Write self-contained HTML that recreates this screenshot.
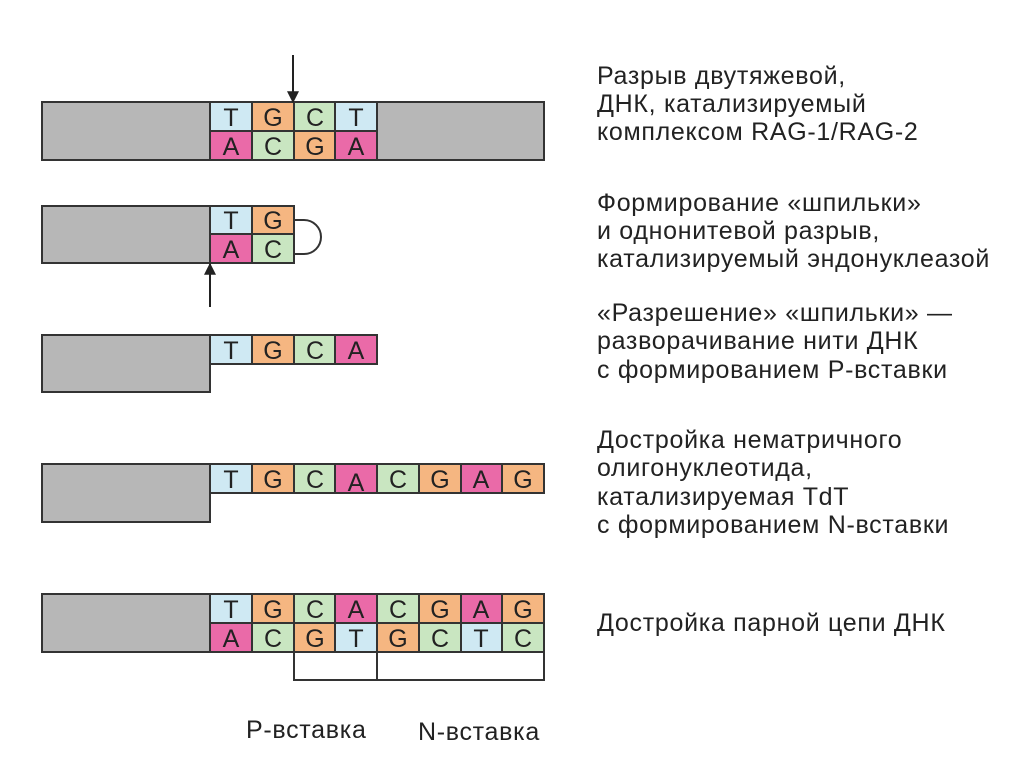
<!DOCTYPE html>
<html><head><meta charset="utf-8"><style>
html,body{margin:0;padding:0;background:#fff;}
svg{display:block}
.t{font-family:"Liberation Sans",sans-serif;font-size:25px;letter-spacing:0.7px;fill:#222}
.b{font-family:"Liberation Sans",sans-serif;font-size:25px;fill:#222;text-anchor:middle}
</style></head><body>
<svg width="1024" height="767" viewBox="0 0 1024 767" xmlns="http://www.w3.org/2000/svg">
<defs>
<marker id="ah" viewBox="0 0 10 10" refX="9" refY="5" markerWidth="6" markerHeight="7" orient="auto"><path d="M0,0 L10,5 L0,10 z" fill="#222"/></marker>
</defs>
<g stroke="#333" stroke-width="2">
<rect x="42" y="102" width="502" height="58" fill="#b7b7b7"/>
<rect x="210" y="102" width="42" height="29" fill="#cfe9f3"/><rect x="252" y="102" width="42" height="29" fill="#f5b681"/><rect x="294" y="102" width="41" height="29" fill="#c9e6c1"/><rect x="335" y="102" width="42" height="29" fill="#cfe9f3"/>
<rect x="210" y="131" width="42" height="29" fill="#ea6aa8"/><rect x="252" y="131" width="42" height="29" fill="#c9e6c1"/><rect x="294" y="131" width="41" height="29" fill="#f5b681"/><rect x="335" y="131" width="42" height="29" fill="#ea6aa8"/>
<rect x="42" y="206" width="252" height="57" fill="#b7b7b7"/>
<rect x="210" y="206" width="42" height="28" fill="#cfe9f3"/><rect x="252" y="206" width="42" height="28" fill="#f5b681"/>
<rect x="210" y="234" width="42" height="29" fill="#ea6aa8"/><rect x="252" y="234" width="42" height="29" fill="#c9e6c1"/>
<path d="M294,220 L304,220 A17,17 0 0 1 304,254 L294,254" fill="none"/>
<rect x="42" y="335" width="168" height="57" fill="#b7b7b7"/>
<rect x="210" y="335" width="42" height="29" fill="#cfe9f3"/><rect x="252" y="335" width="42" height="29" fill="#f5b681"/><rect x="294" y="335" width="41" height="29" fill="#c9e6c1"/><rect x="335" y="335" width="42" height="29" fill="#ea6aa8"/>
<rect x="42" y="464" width="168" height="58" fill="#b7b7b7"/>
<rect x="210" y="464" width="42" height="29" fill="#cfe9f3"/><rect x="252" y="464" width="42" height="29" fill="#f5b681"/><rect x="294" y="464" width="41" height="29" fill="#c9e6c1"/><rect x="335" y="464" width="42" height="29" fill="#ea6aa8"/>
<rect x="377" y="464" width="42" height="29" fill="#c9e6c1"/><rect x="419" y="464" width="42" height="29" fill="#f5b681"/><rect x="461" y="464" width="41" height="29" fill="#ea6aa8"/><rect x="502" y="464" width="42" height="29" fill="#f5b681"/>
<rect x="42" y="594" width="168" height="58" fill="#b7b7b7"/>
<rect x="210" y="594" width="42" height="29" fill="#cfe9f3"/><rect x="252" y="594" width="42" height="29" fill="#f5b681"/><rect x="294" y="594" width="41" height="29" fill="#c9e6c1"/><rect x="335" y="594" width="42" height="29" fill="#ea6aa8"/>
<rect x="377" y="594" width="42" height="29" fill="#c9e6c1"/><rect x="419" y="594" width="42" height="29" fill="#f5b681"/><rect x="461" y="594" width="41" height="29" fill="#ea6aa8"/><rect x="502" y="594" width="42" height="29" fill="#f5b681"/>
<rect x="210" y="623" width="42" height="29" fill="#ea6aa8"/><rect x="252" y="623" width="42" height="29" fill="#c9e6c1"/><rect x="294" y="623" width="41" height="29" fill="#f5b681"/><rect x="335" y="623" width="42" height="29" fill="#cfe9f3"/>
<rect x="377" y="623" width="42" height="29" fill="#f5b681"/><rect x="419" y="623" width="42" height="29" fill="#c9e6c1"/><rect x="461" y="623" width="41" height="29" fill="#cfe9f3"/><rect x="502" y="623" width="42" height="29" fill="#c9e6c1"/>
<path d="M294,652 L294,680 L544,680 L544,652 M377,652 L377,680" fill="none"/>
</g>
<line x1="293" y1="55" x2="293" y2="102" stroke="#222" stroke-width="2" marker-end="url(#ah)"/>
<line x1="210" y1="307" x2="210" y2="264" stroke="#222" stroke-width="2" marker-end="url(#ah)"/>
<g class="b">
<text x="231" y="126">T</text><text x="273" y="126">G</text><text x="315" y="126">C</text><text x="356" y="126">T</text>
<text x="231" y="155">A</text><text x="273" y="155">C</text><text x="315" y="155">G</text><text x="356" y="155">A</text>
<text x="231" y="229">T</text><text x="273" y="229">G</text>
<text x="231" y="258">A</text><text x="273" y="258">C</text>
<text x="231" y="359">T</text><text x="273" y="359">G</text><text x="315" y="359">C</text><text x="356" y="359">A</text>
<text x="231" y="488">T</text><text x="273" y="488">G</text><text x="315" y="488">C</text><text x="356" y="491">A</text><text x="398" y="488">C</text><text x="440" y="488">G</text><text x="481" y="488">A</text><text x="523" y="488">G</text>
<text x="231" y="618">T</text><text x="273" y="618">G</text><text x="315" y="618">C</text><text x="356" y="618">A</text><text x="398" y="618">C</text><text x="440" y="618">G</text><text x="481" y="618">A</text><text x="523" y="618">G</text>
<text x="231" y="647">A</text><text x="273" y="647">C</text><text x="315" y="647">G</text><text x="356" y="647">T</text><text x="398" y="647">G</text><text x="440" y="647">C</text><text x="481" y="647">T</text><text x="523" y="647">C</text>
</g>
<g class="t">
<text x="597" y="84">Разрыв двутяжевой,</text>
<text x="597" y="112">ДНК, катализируемый</text>
<text x="597" y="140">комплексом RAG-1/RAG-2</text>
<text x="597" y="211">Формирование «шпильки»</text>
<text x="597" y="239">и однонитевой разрыв,</text>
<text x="597" y="267">катализируемый эндонуклеазой</text>
<text x="597" y="321">«Разрешение» «шпильки» —</text>
<text x="597" y="349">разворачивание нити ДНК</text>
<text x="597" y="378">с формированием Р-вставки</text>
<text x="597" y="448">Достройка нематричного</text>
<text x="597" y="476">олигонуклеотида,</text>
<text x="597" y="505">катализируемая TdT</text>
<text x="597" y="533">с формированием N-вставки</text>
<text x="597" y="631">Достройка парной цепи ДНК</text>
<text x="246" y="738">P-вставка</text>
<text x="418" y="740">N-вставка</text>
</g>
</svg>
</body></html>
